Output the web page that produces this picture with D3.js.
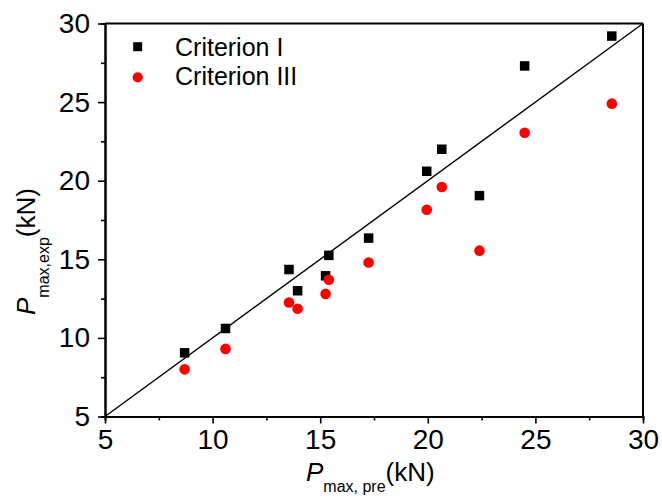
<!DOCTYPE html>
<html>
<head>
<meta charset="utf-8">
<script src="https://cdn.jsdelivr.net/npm/d3@7"></script>
<style>
  body { margin: 0; background: #fff; }
  text { font-family: "Liberation Sans", Arial, sans-serif; fill: #000; }
</style>
</head>
<body>
<svg id="chart" width="662" height="501"></svg>
<script>
// values
const xPre = [8.7, 10.6, 13.55, 13.95, 15.25, 15.4, 17.25, 19.95, 20.65, 22.4, 24.5, 28.55];
const critI = [9.05, 10.6, 14.35, 13.0, 13.95, 15.25, 16.35, 20.6, 22.0, 19.05, 27.3, 29.2];
const critIII = [8.0, 9.3, 12.25, 11.85, 12.8, 13.7, 14.8, 18.15, 19.6, 15.55, 23.05, 24.9];
const majorTicks = [5, 10, 15, 20, 25, 30];
const minorTicks = [7.5, 12.5, 17.5, 22.5, 27.5];
const seriesNames = ["Criterion I", "Criterion III"];

const svg = d3.select("#chart");
const margin = {left: 105, top: 23.5};
const width = 538, height = 393;

const g = svg.append("g")
  .attr("transform", `translate(${margin.left}, ${margin.top})`);

const x = d3.scaleLinear().domain([5, 30]).range([0, width]);
const y = d3.scaleLinear().domain([5, 30]).range([height, 0]);

// minor ticks
g.append("g")
  .attr("transform", `translate(0, ${height})`)
  .call(d3.axisBottom(x).tickValues(minorTicks).tickSize(4).tickFormat(""));
g.append("g")
  .call(d3.axisLeft(y).tickValues(minorTicks).tickSize(4).tickFormat(""));

// major ticks + labels
const xAxis = g.append("g")
  .attr("transform", `translate(0, ${height})`)
  .call(d3.axisBottom(x).tickValues(majorTicks).tickSize(7).tickPadding(6).tickSizeOuter(0));
const yAxis = g.append("g")
  .call(d3.axisLeft(y).tickValues(majorTicks).tickSize(7).tickPadding(8).tickSizeOuter(0));

[xAxis, yAxis].forEach(a => {
  a.selectAll("text").style("font-size", "28px").style("font-family", "'Liberation Sans', Arial, sans-serif");
});
g.selectAll(".tick line").attr("stroke", "#000").attr("stroke-width", 1.6);
g.selectAll(".domain").attr("stroke", "#000").attr("stroke-width", 2);

// top and right frame
g.append("line").attr("x1", 0).attr("x2", width).attr("y1", 0).attr("y2", 0)
  .attr("stroke", "#000").attr("stroke-width", 2);
g.append("line").attr("x1", width).attr("x2", width).attr("y1", 0).attr("y2", height)
  .attr("stroke", "#000").attr("stroke-width", 2);

// 1:1 line
g.append("line")
  .attr("x1", x(5)).attr("y1", y(5))
  .attr("x2", x(30)).attr("y2", y(30))
  .attr("stroke", "#000").attr("stroke-width", 1.4);

const sq = 9.5;
g.selectAll(".sq")
  .data(xPre.map((v, i) => [v, critI[i]]))
  .enter().append("rect")
  .attr("class", "sq")
  .attr("x", d => x(d[0]) - sq / 2)
  .attr("y", d => y(d[1]) - sq / 2)
  .attr("width", sq).attr("height", sq)
  .attr("fill", "#000");

g.selectAll(".dot")
  .data(xPre.map((v, i) => [v, critIII[i]]))
  .enter().append("circle")
  .attr("class", "dot")
  .attr("cx", d => x(d[0]))
  .attr("cy", d => y(d[1]))
  .attr("r", 5.3)
  .attr("fill", "#ff0000");

// legend
const leg = svg.append("g");
leg.append("rect").attr("x", 137.7 - 4.5).attr("y", 46.7 - 4.5).attr("width", 9).attr("height", 9).attr("fill", "#000");
leg.append("circle").attr("cx", 137.7).attr("cy", 77.3).attr("r", 5.1).attr("fill", "#ff0000");
leg.selectAll(".lt")
  .data(seriesNames)
  .enter().append("text")
  .attr("x", 175)
  .attr("y", (d, i) => 55.5 + i * 29.5)
  .style("font-size", "25px")
  .text(d => d);

// axis titles
const xt = svg.append("text")
  .attr("x", 306).attr("y", 481)
  .style("font-size", "26px");
xt.append("tspan").style("font-style", "italic").text("P");
xt.append("tspan").attr("dy", 11).style("font-size", "16px").text("max, pre");
xt.append("tspan").attr("dy", -11).text("(kN)");

const yt = svg.append("text")
  .attr("transform", "translate(35, 315) rotate(-90)")
  .style("font-size", "26px");
yt.append("tspan").style("font-style", "italic").text("P");
yt.append("tspan").attr("dy", 14).style("font-size", "16px").text("max,exp");
yt.append("tspan").attr("dy", -14).text("(kN)");
</script>
</body>
</html>
